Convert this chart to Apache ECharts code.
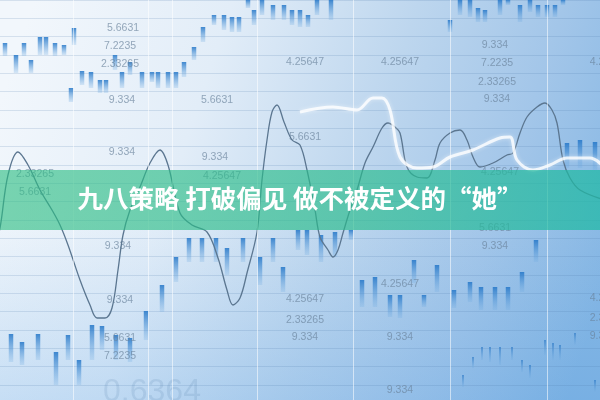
<!DOCTYPE html>
<html><head><meta charset="utf-8">
<script src="https://cdn.jsdelivr.net/npm/echarts@6/dist/echarts.min.js"></script>
<style>html,body{margin:0;padding:0;background:#fff}#c{width:600px;height:400px}</style>
</head><body><div id="c"></div>
<script>
// ---- data ----
const titleText = '九八策略 打破偏见 做不被定义的“她”';

// candle bars: x position, top value, bottom value
const barX      = [5,16,24,31,40,46,55,64,74,71,82,91,100,106,115,122,130,142,152,158,168,176,184,194,203,214,224,232,239,248,254,262,273,284,292,300,308,317,331,450,460,470,478,485,500,508,520,530,538,547,555,563,567,580,595,
                   11,22,38,56,68,79,92,102,116,130,146,162,176,189,202,216,227,243,260,273,283,298,307,321,335,351,362,375,390,400,414,424,437,454,470,481,495,508,522,536];
const barTop    = [43,55,43,60,37,37,43,45,28,88,71,72,80,80,55,72,62,72,72,72,72,72,62,47,27,15,15,17,17,0,10,0,5,5,10,10,15,0,0,20,0,0,8,10,0,0,5,0,5,5,5,0,143,140,142,
                   334,342,334,352,335,360,325,326,335,338,311,285,257,238,238,238,248,238,257,238,267,230,230,235,232,230,280,277,295,295,260,295,265,290,282,287,287,287,272,240];
const barBottom = [56,73,56,73,55,55,56,55,45,102,85,88,93,93,70,88,75,88,82,88,88,88,77,60,42,25,30,32,32,8,25,15,20,20,25,27,27,15,20,32,15,17,22,22,15,5,22,12,17,17,17,5,168,168,170,
                   362,365,360,385,360,385,360,350,360,362,340,312,282,262,262,262,275,262,285,262,292,250,255,262,257,240,307,307,317,318,283,307,292,308,302,310,310,310,292,262];

// thin ticks in the lower right
const tickX      = [463,473,482,490,500,512,522,530,545,553,560,575,595];
const tickTop    = [375,357,347,347,347,347,360,365,340,343,345,333,380];
const tickBottom = [387,368,360,362,365,360,372,378,355,360,360,345,392];

// dark curve
const darkX = [-5,0,8,18,28,40,52,60,68,80,90,97,105,112,118,123,130,140,150,160,168,180,192,207,218,227,233,240,247,257,262,267,272,277,284,292,300,307,315,320,328,333,338,343,350,357,365,373,382,388,395,400,407,417,427,435,440,450,460,467,473,480,493,507,513,520,527,537,545,552,557,563,570,580,605];
const darkY = [245,228,175,152,165,190,210,225,245,280,305,318,318,308,270,235,210,187,163,150,165,213,225,232,258,290,305,298,273,232,180,140,112,105,122,140,145,170,210,237,250,257,250,233,210,190,163,147,128,123,127,133,167,177,178,160,143,133,130,140,157,167,163,155,153,133,117,107,103,110,123,160,178,190,200];

// light curve
const lightX = [300,333,357,373,382,390,400,417,433,450,473,500,510,517,533,550,567,590,605];
const lightY = [112,107,110,98,98,110,157,168,167,157,150,138,137,160,170,165,158,158,168];

// scattered figures
const labelText = ['5.6631','7.2235','2.33265','9.334','5.6631','9.334','9.334','4.25647','4.25647','5.6631','9.334','7.2235','2.33265','9.334','2.33265','5.6631','4.25647','4.25647','9.334','9.334','5.6631','7.2235','4.25647','2.33265','9.334','4.25647','9.334','9.334','5.6631','9.334','4.2','4.2','2.3','9.3'];
const labelX    = [123,120,120,122,217,122,215,305,400,305,495,497,497,497,35,35,222,500,118,120,120,120,305,305,305,400,400,400,495,495,597,597,597,597];
const labelY    = [28,46,64,100,100,152,157,62,62,137,45,63,82,99,174,192,176,172,246,300,338,356,299,320,337,284,337,390,228,246,62,298,318,336];

const bigText = '0.6364';
const bigX = 152, bigY = 392;

const vLines = [73,148,172,257,353,450,547];

// ---- chart ----
const chart = echarts.init(document.getElementById('c'), null, {renderer:'canvas'});

function barItem(width, c1, c2){
  return function(params, api){
    const p1 = api.coord([api.value(0), api.value(1)]);
    const p2 = api.coord([api.value(0), api.value(2)]);
    return {
      type:'rect',
      shape:{x:p1[0]-width/2, y:p1[1], width:width, height:p2[1]-p1[1]},
      style:{fill:new echarts.graphic.LinearGradient(0,0,0,1,[{offset:0,color:c1},{offset:1,color:c2}])}
    };
  };
}

const option = {
  animation:false,
  backgroundColor:new echarts.graphic.LinearGradient(0,0.25,1,0.75,[
    {offset:0,color:'#f2f7fc'},
    {offset:0.3,color:'#e2edf8'},
    {offset:0.58,color:'#bdd6ee'},
    {offset:0.8,color:'#a3c6e9'},
    {offset:1,color:'#86b7e4'}
  ]),
  grid:{left:0,right:0,top:0,bottom:0,containLabel:false},
  xAxis:{type:'value',min:0,max:600,axisLine:{show:false},axisTick:{show:false},axisLabel:{show:false},splitLine:{show:false}},
  yAxis:{type:'value',inverse:true,min:0,max:400,interval:18.33,axisLine:{show:false},axisTick:{show:false},axisLabel:{show:false},
         splitLine:{show:true,lineStyle:{color:'rgba(80,120,170,0.18)',width:1}}},
  series:[
    {type:'line',data:[[0,0],[600,0]],lineStyle:{opacity:0},symbol:'none',silent:true,
     markLine:{silent:true,symbol:'none',label:{show:false},lineStyle:{color:'rgba(255,255,255,0.55)',width:1,type:'solid'},
       data:vLines.map(v=>({xAxis:v}))}},
    {type:'custom',renderItem:barItem(4.5,'rgba(35,118,200,0.85)','rgba(110,170,225,0.22)'),
     data:barX.map((x,i)=>[x,barTop[i],barBottom[i]]),silent:true},
    {type:'custom',renderItem:barItem(2,'rgba(50,125,200,0.7)','rgba(120,175,225,0.3)'),
     data:tickX.map((x,i)=>[x,tickTop[i],tickBottom[i]]),silent:true},
    {type:'line',smooth:0.35,symbol:'none',silent:true,
     data:darkX.map((x,i)=>[x,darkY[i]]),lineStyle:{color:'#5b7690',width:1.3}},
    {type:'line',smooth:0.35,symbol:'none',silent:true,
     data:lightX.map((x,i)=>[x,lightY[i]]),lineStyle:{color:'rgba(255,255,255,0.8)',width:3,shadowColor:'rgba(255,255,255,0.6)',shadowBlur:4}},
    {type:'scatter',symbolSize:1,silent:true,itemStyle:{color:'transparent'},
     data:labelX.map((x,i)=>({value:[x,labelY[i]],name:labelText[i]})),
     label:{show:true,position:'inside',formatter:p=>p.name,color:'rgba(105,130,155,0.85)',fontSize:10.5,fontFamily:'Liberation Sans'}},
    {type:'scatter',symbolSize:1,silent:true,itemStyle:{color:'transparent'},
     data:[{value:[bigX,bigY],name:bigText}],
     label:{show:true,position:'inside',formatter:p=>p.name,color:'rgba(80,125,170,0.2)',fontSize:32,fontFamily:'Liberation Sans'}}
  ],
  graphic:[
    {type:'rect',z:0,left:0,top:0,silent:true,shape:{width:600,height:400},
     style:{fill:new echarts.graphic.LinearGradient(0,0,0,1,[{offset:0,color:'rgba(90,160,225,0)'},{offset:0.55,color:'rgba(90,160,225,0)'},{offset:1,color:'rgba(70,150,225,0.22)'}])}},
    {type:'rect',z:100,left:0,top:170,shape:{width:600,height:60},
     style:{fill:new echarts.graphic.LinearGradient(0,0,1,0,[{offset:0,color:'rgba(45,190,130,0.62)'},{offset:0.6,color:'rgba(40,188,140,0.66)'},{offset:1,color:'rgba(30,185,165,0.72)'}])}},
    {type:'text',z:101,left:'center',top:186,style:{text:titleText,fill:'#ffffff',font:'bold 25.5px "Noto Sans CJK SC"'}}
  ]
};
chart.setOption(option);
</script>
</body></html>
